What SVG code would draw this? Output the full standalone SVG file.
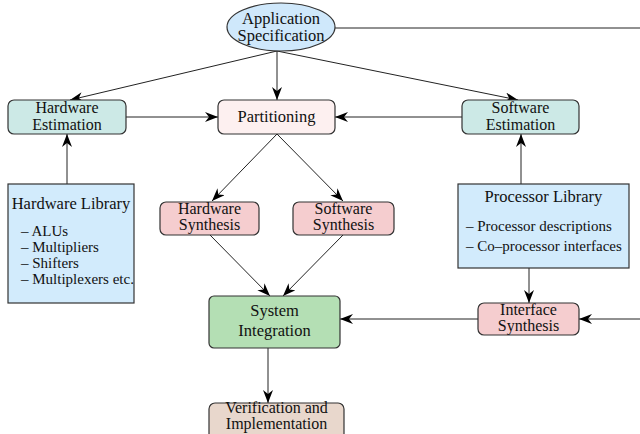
<svg xmlns="http://www.w3.org/2000/svg" width="640" height="434" viewBox="0 0 640 434">
<style>
text{font-family:"Liberation Serif","Times New Roman",serif;font-size:16px;fill:#111;text-anchor:middle}
.it{font-size:15px;text-anchor:start}
.box{stroke:#333;stroke-width:1.2}
.c{stroke:#222;stroke-width:1;fill:none}
.a{marker-end:url(#ah)}
</style>
<defs>
<marker id="ah" markerUnits="userSpaceOnUse" markerWidth="15" markerHeight="11" refX="13" refY="5" orient="auto">
<path d="M0,0 L13,5 L0,10 L4,5 z" fill="#000"/>
</marker>
</defs>
<rect width="640" height="434" fill="#fff"/>
<g id="connectors">
<path class="c" d="M335,28 H640"/>
<path class="c a" d="M277,51 L70,100"/>
<path class="c a" d="M277,51 V100"/>
<path class="c a" d="M277,51 L518,100"/>
<path class="c a" d="M126,117 H218"/>
<path class="c a" d="M462,117 H335"/>
<path class="c a" d="M67,184 V134"/>
<path class="c a" d="M521,184 V134"/>
<path class="c a" d="M277,134 L212,201"/>
<path class="c a" d="M277,134 L343,201"/>
<path class="c a" d="M210,235 L270,296"/>
<path class="c a" d="M343,235 L283,296"/>
<path class="c a" d="M529,268 V303"/>
<path class="c a" d="M640,319 H579"/>
<path class="c a" d="M478,319 H340"/>
<path class="c a" d="M268,348 V403"/>
</g>
<g id="app-spec">
<ellipse class="box" cx="281" cy="27" rx="54" ry="24" fill="#cfe8fb"/>
<text x="281" y="23.5" style="font-size:16.5px">Application</text>
<text x="281" y="41" style="font-size:16.5px">Specification</text>
</g>
<g id="hw-est">
<rect class="box" x="8" y="100" width="118" height="34" rx="6" fill="#cce9e6"/>
<text x="67" y="113">Hardware</text>
<text x="67" y="130">Estimation</text>
</g>
<g id="partitioning">
<rect class="box" x="218" y="100" width="117" height="34" rx="6" fill="#fdf0f0"/>
<text x="276.5" y="122" style="font-size:16.5px">Partitioning</text>
</g>
<g id="sw-est">
<rect class="box" x="462" y="100" width="117" height="34" rx="6" fill="#cce9e6"/>
<text x="520.5" y="113">Software</text>
<text x="520.5" y="130">Estimation</text>
</g>
<g id="hw-lib">
<rect class="box" x="8" y="184" width="126" height="119" fill="#d2ebfc"/>
<text x="71" y="209" style="font-size:16.5px">Hardware Library</text>
<text class="it" x="21" y="236">– ALUs</text>
<text class="it" x="21" y="252">– Multipliers</text>
<text class="it" x="21" y="268">– Shifters</text>
<text class="it" x="21" y="284">– Multiplexers etc.</text>
</g>
<g id="hw-syn">
<rect class="box" x="160" y="202" width="99" height="33" rx="6" fill="#f5cdcf"/>
<text x="209.5" y="214">Hardware</text>
<text x="209.5" y="230">Synthesis</text>
</g>
<g id="sw-syn">
<rect class="box" x="293" y="202" width="101" height="33" rx="6" fill="#f5cdcf"/>
<text x="343.5" y="214">Software</text>
<text x="343.5" y="230">Synthesis</text>
</g>
<g id="proc-lib">
<rect class="box" x="458" y="184" width="171" height="84" fill="#d2ebfc"/>
<text x="543.5" y="202" style="font-size:16.5px">Processor Library</text>
<text class="it" x="466" y="231">– Processor descriptions</text>
<text class="it" x="466" y="251">– Co–processor interfaces</text>
</g>
<g id="sys-int">
<rect class="box" x="209" y="296" width="131" height="52" rx="5" fill="#b4dfb4"/>
<text x="274.5" y="316" style="font-size:16.5px">System</text>
<text x="274.5" y="336" style="font-size:16.5px">Integration</text>
</g>
<g id="if-syn">
<rect class="box" x="478" y="303" width="101" height="32" rx="6" fill="#f5cdcf"/>
<text x="528.5" y="315">Interface</text>
<text x="528.5" y="331">Synthesis</text>
</g>
<g id="verif">
<rect class="box" x="209" y="403" width="135" height="45" rx="6" fill="#e8d7cc"/>
<text x="276.5" y="413">Verification and</text>
<text x="276.5" y="429">Implementation</text>
</g>
</svg>
